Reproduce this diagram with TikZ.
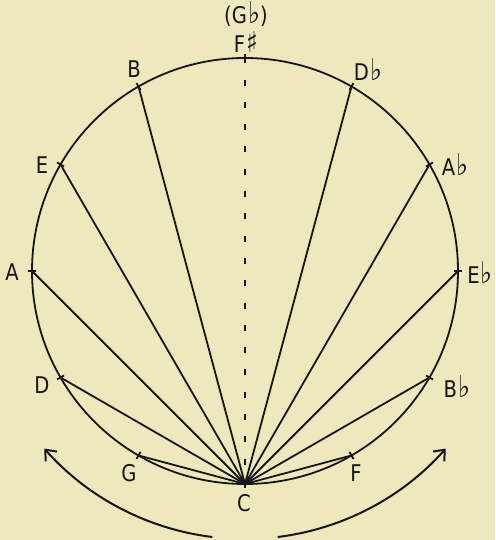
\documentclass[tikz,border=0pt]{standalone}
\usepackage{graphicx}
\usepackage{fontspec}
\setmainfont[FakeStretch=0.85]{DejaVu Sans}
\usetikzlibrary{arrows.meta}
\definecolor{bg}{RGB}{238,232,190}
\definecolor{ink}{RGB}{22,22,22}
\newcommand\myflat{\kern0.05em\scalebox{1.3}{♭}}
\newcommand\mysharp{\kern0.05em\scalebox{1.25}{♯}}
\begin{document}
\begin{tikzpicture}[x=1pt,y=1pt,line width=1.8pt,draw=ink,
  lab/.style={font=\fontsize{23}{23}\selectfont,text=ink,inner sep=0pt,anchor=center},
  spoke/.style={line width=1.8pt},
  tick/.style={line width=1.8pt},
  turn/.style={line width=2pt,-{Straight Barb[length=9pt,width=15pt,line width=2pt]}}]
\fill[bg] (0,0) rectangle (495,540);
\useasboundingbox (0,0) rectangle (495,540);
\coordinate (O) at (245,269);
\draw (O) circle[radius=213];
\foreach \n/\a in {Fs/90,B/120,E/150,A/180,D/210,G/240,C/270,F/300,Bb/330,Eb/0,Ab/30,Db/60}{
  \path (O) ++(\a:213) coordinate (\n);
  \draw[tick] (O) ++(\a:209) -- ++(\a:8);
}
\foreach \n in {B,E,A,D,G,F,Bb,Eb,Ab,Db}{
  \draw[spoke] (C) -- (\n);
}
\draw[spoke,dash pattern=on 6pt off 16.3pt,dash phase=3pt] (C) -- (Fs);
% rotation arrows
\path (O) ++(263:268) coordinate (la);
\path (O) ++(277:268) coordinate (ra);
\draw[turn] (la) arc[start angle=263,end angle=221.5,radius=268] coordinate (lb);
\draw[turn] (ra) arc[start angle=277,end angle=318.5,radius=268] coordinate (rb);
% labels
\node[lab] (lGb) at (246,526) {(G\myflat)};
\node[lab] (lFs) at (246,498) {F\mysharp};
\node[lab] (lB) at (134,471) {B};
\node[lab] (lDb) at (368,470) {D\myflat};
\node[lab] (lE) at (42,375) {E};
\node[lab] (lAb) at (455,375) {A\myflat};
\node[lab] (lA) at (12,268) {A};
\node[lab] (lEb) at (480,267) {E\myflat};
\node[lab] (lD) at (42,155) {D};
\node[lab] (lBb) at (457,153) {B\myflat};
\node[lab] (lG) at (129,67) {G};
\node[lab] (lF) at (356,67) {F};
\node[lab] (lC) at (244,37) {C};
\end{tikzpicture}
\end{document}
